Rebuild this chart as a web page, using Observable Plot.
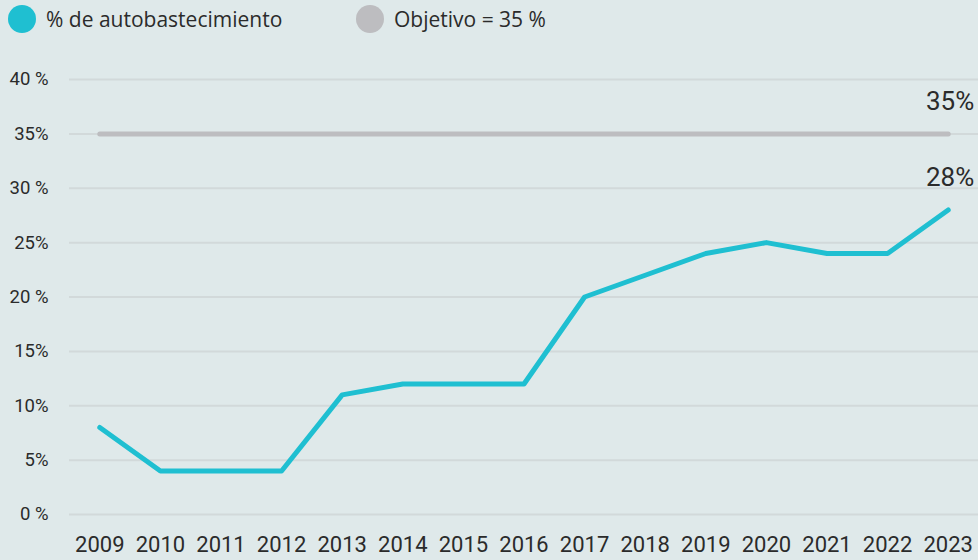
<!DOCTYPE html>
<html>
<head>
<meta charset="utf-8">
<script src="https://cdn.jsdelivr.net/npm/d3@7"></script>
<script src="https://cdn.jsdelivr.net/npm/@observablehq/plot@0.6"></script>
<style>
  html, body { margin: 0; padding: 0; background: #dfe9ea; }
  #wrap { width: 978px; height: 560px; overflow: hidden; background: #dfe9ea; }
  .legend { height: 40px; position: relative; font-family: "Open Sans", sans-serif; font-size: 21px; color: #2b2b2b; }
  .legend .item { position: absolute; top: 5px; display: flex; align-items: center; }
  .legend .dot { width: 28px; height: 28px; border-radius: 50%; margin-right: 10px; }
  svg { display: block; }
</style>
</head>
<body>
<div id="wrap">
  <div class="legend">
    <div class="item" style="left:8px"><span class="dot" style="background:#1fbfd1"></span><span>% de autobastecimiento</span></div>
    <div class="item" style="left:356px"><span class="dot" style="background:#bdbdc0"></span><span>Objetivo = 35 %</span></div>
  </div>
  <div id="chart"></div>
</div>
<script>
const years = [2009, 2010, 2011, 2012, 2013, 2014, 2015, 2016, 2017, 2018, 2019, 2020, 2021, 2022, 2023];
const selfSupply = [8, 4, 4, 4, 11, 12, 12, 12, 20, 22, 24, 25, 24, 24, 28];
const target = 35;
const yTicks = [0, 5, 10, 15, 20, 25, 30, 35, 40];
const yTickLabels = ["0 %", "5%", "10%", "15%", "20 %", "25%", "30 %", "35%", "40 %"];
const endLabels = ["35%", "28%"];

const lineData = years.map((y, i) => ({year: y, value: selfSupply[i]}));
const targetData = [{year: years[0], value: target}, {year: years[years.length - 1], value: target}];
const endData = [
  {year: years[years.length - 1], value: target, label: endLabels[0]},
  {year: years[years.length - 1], value: selfSupply[selfSupply.length - 1], label: endLabels[1]}
];

const chart = Plot.plot({
  width: 978,
  height: 520,
  marginLeft: 69,
  marginRight: 0,
  marginTop: 39,
  marginBottom: 46,
  style: {background: "transparent", fontFamily: "Roboto, sans-serif", color: "#2b2b2b", overflow: "visible"},
  x: {type: "linear", domain: [2008.5, 2023.5]},
  y: {domain: [0, 40]},
  marks: [
    Plot.gridY(yTicks, {stroke: "#d2d9da", strokeOpacity: 1, strokeWidth: 2}),
    Plot.axisY(yTicks, {tickSize: 0, tickPadding: 21, fontSize: 18.5, tickFormat: (d) => yTickLabels[yTicks.indexOf(d)], label: null, fill: "#2b2b2b"}),
    Plot.axisX(years, {tickSize: 0, tickPadding: 22, fontSize: 22, tickFormat: (d) => String(d), label: null, fill: "#2b2b2b"}),
    Plot.line(targetData, {x: "year", y: "value", stroke: "#bdbdc0", strokeWidth: 5, strokeLinecap: "round"}),
    Plot.line(lineData, {x: "year", y: "value", stroke: "#1fbfd1", strokeWidth: 5, strokeLinecap: "round", strokeLinejoin: "round"}),
    Plot.text(endData, {x: "year", y: "value", text: "label", textAnchor: "end", dx: 26, dy: -32, fontSize: 26, fill: "#2b2b2b"})
  ]
});
document.getElementById("chart").appendChild(chart);
</script>
</body>
</html>
